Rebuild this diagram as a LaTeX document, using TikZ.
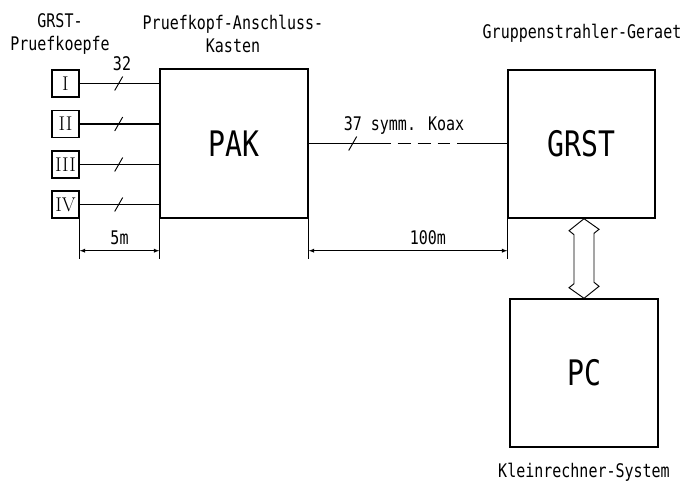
\documentclass[tikz,border=0pt]{standalone}
\usepackage{fontspec}
\newfontfamily\plotfont[FakeStretch=0.8]{DejaVu Sans Mono}
\usetikzlibrary{calc}
\tikzset{>=latex}
\def\u{0.03cm}
\tikzstyle{block}=[draw,line width=1.2pt,inner sep=0pt,font=\plotfont\fontsize{30}{36}\selectfont]
\tikzstyle{probe}=[draw,line width=1.2pt,inner sep=0pt,minimum width=27*\u,minimum height=27*\u,font=\fontsize{17}{20}\selectfont]
\tikzstyle{plottext}=[inner sep=0pt,align=center,font=\plotfont\fontsize{16}{19}\selectfont]
\tikzstyle{wire}=[line width=1pt]
\tikzstyle{measure}=[<->,line width=0.6pt]

\begin{document}
\begin{tikzpicture}[x=\u,y=-\u]
  \useasboundingbox (0,0) rectangle (685,482);

  % BLOCKS
  \node[block,minimum width=148*\u,minimum height=149*\u] (PAK) at (234,143.5) {PAK};
  \node[block,minimum width=147*\u,minimum height=148*\u] (GRST) at (581.5,144) {GRST};
  \node[block,minimum width=148*\u,minimum height=148*\u] (PC) at (584,373) {PC};

  % HEADINGS
  \node[plottext] (hprobe) at (60,34) {GRST-\\Pruefkoepfe};
  \node[plottext] (hpak) at (233,34) {Pruefkopf-Anschluss-\\Kasten};
  \node[plottext] (hgrst) at (582,33) {Gruppenstrahler-Geraet};
  \node[plottext] (hpc) at (584,472) {Kleinrechner-System};

  % PROBES
  \foreach \n/\yy/\r in {1/83.5/I,2/124/II,3/164.5/III,4/204.5/IV}{
    \node[probe] (P\n) at (65.5,\yy) {\r};
    \draw[wire] (P\n.east) -- (P\n.east -| PAK.west) coordinate[pos=0.49] (s\n);
    \draw[line width=0.8pt] ($(s\n)+(-4,7)$) -- ($(s\n)+(4,-7)$);
  }
  \node[plottext] (n32) at (122,64) {32};

  % COAX
  \coordinate (c1) at ($(PAK.east)+(82,0)$);
  \coordinate (c2) at ($(PAK.east)+(155,0)$);
  \coordinate (s5) at ($(PAK.east)+(44,0)$);
  \draw[wire] (PAK.east) -- (c1);
  \draw[wire,dash pattern=on 11pt off 6pt,dash phase=11pt] (c1) -- (c2);
  \draw[wire] (c2) -- (c2 -| GRST.west);
  \draw[line width=0.8pt] ($(s5)+(-4,7)$) -- ($(s5)+(4,-7)$);
  \node[plottext] (koax) at (404,125) {37 symm. Koax};

  % MEASURES
  \draw[line width=0.6pt] (P4.south east) -- ++(0,40) coordinate (m1);
  \draw[line width=0.6pt] (PAK.south west) -- ++(0,40) coordinate (m2);
  \draw[line width=0.6pt] (PAK.south east) -- ++(0,40) coordinate (m3);
  \draw[line width=0.6pt] (GRST.south west) -- ++(0,40) coordinate (m4);
  \draw[measure] ($(m1)+(0,-8)$) -- ($(m2)+(0,-8)$) node[plottext,midway,above=5pt] {5m};
  \draw[measure] ($(m3)+(0,-8)$) -- ($(m4)+(0,-8)$) node[plottext,pos=0.6,above=5pt] {100m};

  % BUS
  \coordinate (a1) at (PC.north |- GRST.south);
  \draw[line width=0.8pt] (a1) -- ++(-15,12) -- ++(5,4) -- ++(0,49) -- ++(-5,4)
    -- (PC.north) -- ++(15,-12) -- ++(-5,-4) -- ++(0,-49) -- ++(5,-4) -- cycle;

\end{tikzpicture}
\end{document}
